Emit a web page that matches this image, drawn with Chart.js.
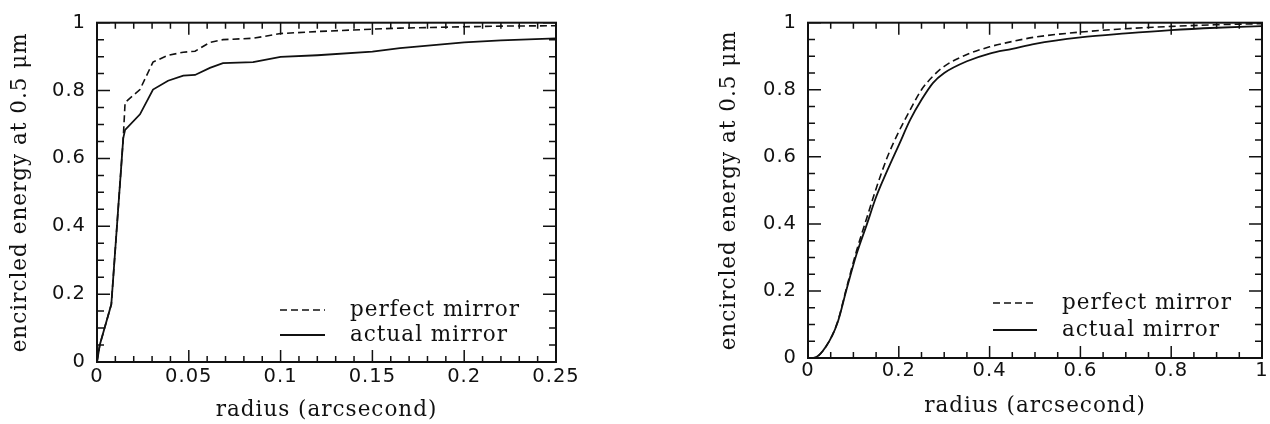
<!DOCTYPE html>
<html>
<head>
<meta charset="utf-8">
<script src="https://cdn.jsdelivr.net/npm/chart.js@4.4.1/dist/chart.umd.min.js"></script>
<style>
  body { margin: 0; background: #fff; }
  #wrap { position: relative; width: 1270px; height: 424px; }
  canvas { position: absolute; top: 0; }
  #left { left: 0; }
  #right { left: 630px; }
</style>
</head>
<body>
<div id="wrap">
  <canvas id="left" width="630" height="424"></canvas>
  <canvas id="right" width="640" height="424"></canvas>
</div>
<script>
// left panel: inner 0.25 arcsec
const radiusL = [0, 0.0015, 0.0078, 0.0143, 0.0153, 0.0234, 0.0305, 0.0387, 0.047, 0.0534, 0.0615, 0.0686, 0.085, 0.1, 0.12, 0.15, 0.165, 0.2, 0.22, 0.25];
const perfectL = [0, 0.05, 0.17, 0.66, 0.765, 0.803, 0.884, 0.904, 0.913, 0.916, 0.942, 0.95, 0.954, 0.968, 0.974, 0.981, 0.984, 0.988, 0.99, 0.991];
const actualL = [0, 0.05, 0.17, 0.66, 0.684, 0.73, 0.803, 0.829, 0.844, 0.846, 0.867, 0.881, 0.884, 0.899, 0.904, 0.915, 0.925, 0.942, 0.948, 0.954];

// right panel: out to 1 arcsec
const radiusR = [0, 0.012, 0.04, 0.065, 0.085, 0.107, 0.13, 0.15, 0.175, 0.2, 0.225, 0.25, 0.275, 0.3, 0.35, 0.4, 0.45, 0.5, 0.6, 0.7, 0.8, 0.9, 1.0];
const perfectR = [0, 0, 0.035, 0.107, 0.21, 0.32, 0.42, 0.505, 0.60, 0.675, 0.74, 0.80, 0.84, 0.87, 0.905, 0.928, 0.944, 0.957, 0.972, 0.982, 0.989, 0.994, 0.997];
const actualR = [0, 0, 0.035, 0.105, 0.205, 0.31, 0.40, 0.48, 0.56, 0.635, 0.71, 0.77, 0.82, 0.85, 0.885, 0.908, 0.922, 0.937, 0.956, 0.968, 0.978, 0.985, 0.99];

const seriesNames = ['perfect mirror', 'actual mirror'];
const xTitle = 'radius (arcsecond)';
const yTitle = 'encircled energy at 0.5 \u03bcm';

const INK = '#111';
const titleFont = { family: '"DejaVu Serif", serif', size: 21.5 };
const tickFont = { family: '"DejaVu Sans", sans-serif', size: 19.5 };

function pts(xs, ys) {
    return xs.map((x, i) => ({ x: x, y: ys[i] }));
}

// 0.10 -> "0.1", 1.0 -> "1"
function fmt(v) {
    return String(parseFloat(v.toFixed(3)));
}

// frame with inward ticks on all four sides + legend inside the plot
const frameTicks = {
    id: 'frameTicks',
    beforeDraw(chart) {
        chart.ctx.letterSpacing = '1px';
    },
    afterDraw(chart, args, opts) {
        const c = chart.ctx;
        const a = chart.chartArea;
        const xs = chart.scales.x, ys = chart.scales.y;
        c.save();
        c.strokeStyle = INK;
        c.lineWidth = 2;
        c.strokeRect(a.left, a.top, a.right - a.left, a.bottom - a.top);

        c.lineWidth = 1.5;
        c.beginPath();
        const nx = Math.round((xs.max - xs.min) / opts.xMinor);
        for (let i = 0; i <= nx; i++) {
            const v = xs.min + i * opts.xMinor;
            const major = Math.abs(v / opts.xMajor - Math.round(v / opts.xMajor)) < 1e-6;
            const len = major ? 12 : 6;
            const px = xs.getPixelForValue(v);
            c.moveTo(px, a.bottom); c.lineTo(px, a.bottom - len);
            c.moveTo(px, a.top); c.lineTo(px, a.top + len);
        }
        const ny = Math.round((ys.max - ys.min) / opts.yMinor);
        for (let i = 0; i <= ny; i++) {
            const v = ys.min + i * opts.yMinor;
            const major = Math.abs(v / opts.yMajor - Math.round(v / opts.yMajor)) < 1e-6;
            const len = major ? 13 : 7;
            const py = ys.getPixelForValue(v);
            c.moveTo(a.left, py); c.lineTo(a.left + len, py);
            c.moveTo(a.right, py); c.lineTo(a.right - len, py);
        }
        c.stroke();

        // legend
        c.font = titleFont.size + 'px ' + titleFont.family;
        c.fillStyle = INK;
        c.textBaseline = 'alphabetic';
        c.textAlign = 'left';
        chart.data.datasets.forEach((ds, i) => {
            const y = a.bottom - opts.legendY[i];
            c.beginPath();
            c.lineWidth = ds.borderWidth;
            c.setLineDash(ds.borderDash || []);
            c.moveTo(a.right - opts.legendX[0], y);
            c.lineTo(a.right - opts.legendX[1], y);
            c.stroke();
            c.setLineDash([]);
            c.fillText(ds.label, a.right - opts.legendX[2], y + 6);
        });
        c.restore();
    }
};

function makeChart(id, xs, perf, act, cfg) {
    return new Chart(document.getElementById(id), {
        type: 'line',
        data: {
            datasets: [{
                label: seriesNames[0],
                data: pts(xs, perf),
                borderColor: INK,
                borderWidth: 1.6,
                borderDash: [7, 4],
                pointRadius: 0,
                tension: cfg.tension,
                cubicInterpolationMode: cfg.tension ? 'monotone' : 'default'
            }, {
                label: seriesNames[1],
                data: pts(xs, act),
                borderColor: INK,
                borderWidth: 1.8,
                pointRadius: 0,
                tension: cfg.tension,
                cubicInterpolationMode: cfg.tension ? 'monotone' : 'default'
            }]
        },
        options: {
            responsive: false,
            animation: false,
            layout: { padding: { top: cfg.top, right: cfg.right, left: 0, bottom: 0 } },
            plugins: {
                legend: { display: false },
                tooltip: { enabled: false },
                frameTicks: cfg.frame
            },
            scales: {
                x: {
                    type: 'linear',
                    min: 0, max: cfg.xMax,
                    grid: { display: false, drawTicks: false },
                    border: { display: false },
                    ticks: { stepSize: cfg.frame.xMajor, color: INK, font: tickFont, padding: cfg.xPad, maxRotation: 0, callback: fmt },
                    title: { display: true, text: xTitle, color: INK, font: titleFont, padding: { top: 0, bottom: cfg.xTitlePad } },
                    afterFit(s) { s.height = cfg.xHeight; }
                },
                y: {
                    min: 0, max: 1,
                    grid: { display: false, drawTicks: false },
                    border: { display: false },
                    ticks: { stepSize: 0.2, color: INK, font: tickFont, padding: 11, callback: fmt },
                    title: { display: true, text: yTitle, color: INK, font: titleFont, padding: { top: cfg.yTitlePad, bottom: 0 } },
                    afterFit(s) { s.width = cfg.yWidth; }
                }
            }
        },
        plugins: [frameTicks]
    });
}

makeChart('left', radiusL, perfectL, actualL, {
    xMax: 0.25, tension: 0,
    top: 17, right: 74, yWidth: 97, xHeight: 62,
    xPad: 3, xTitlePad: 1, yTitlePad: 8,
    frame: { xMajor: 0.05, xMinor: 0.01, yMajor: 0.2, yMinor: 0.05, legendY: [52, 27], legendX: [276, 231, 206] }
});

makeChart('right', radiusR, perfectR, actualR, {
    xMax: 1, tension: 0.4,
    top: 13, right: 8, yWidth: 178, xHeight: 66,
    xPad: 1, xTitlePad: 5, yTitlePad: 87,
    frame: { xMajor: 0.2, xMinor: 0.05, yMajor: 0.2, yMinor: 0.05, legendY: [55, 28], legendX: [269, 225, 200] }
});
</script>
</body>
</html>
